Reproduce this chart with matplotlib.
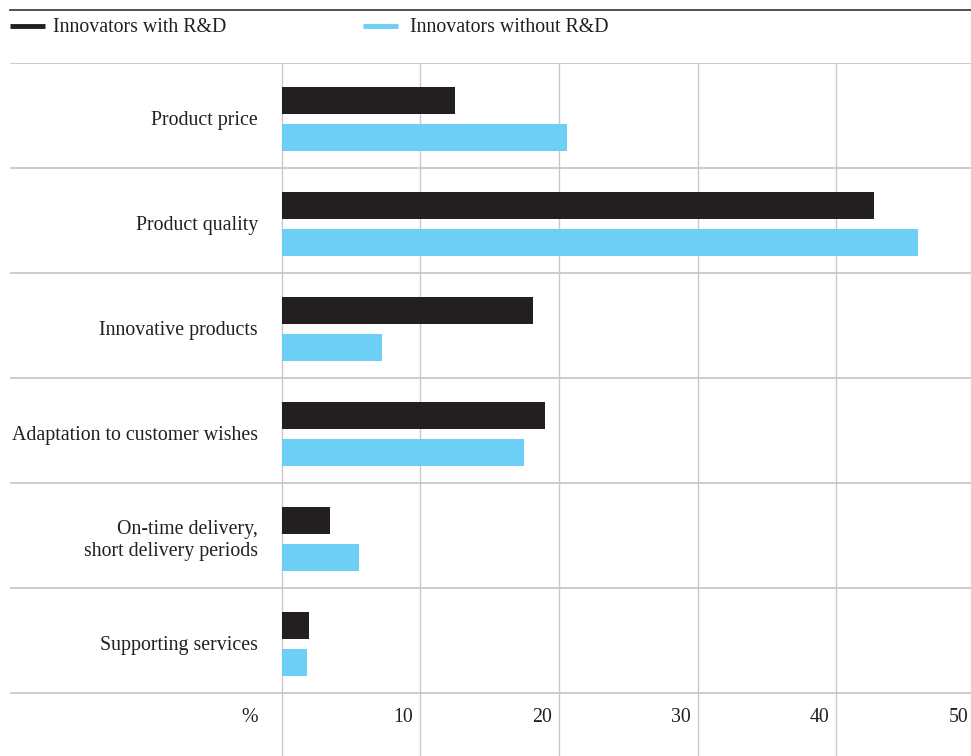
import matplotlib.pyplot as plt
from matplotlib.lines import Line2D
import numpy as np

plt.rcParams['font.family'] = ['Liberation Serif', 'DejaVu Serif']

# data
categories = ['Product price', 'Product quality', 'Innovative products',
              'Adaptation to customer wishes',
              'On-time delivery,\nshort delivery periods', 'Supporting services']
with_rd = [12.5, 42.7, 18.1, 19.0, 3.5, 2.0]
without_rd = [20.6, 45.9, 7.2, 17.5, 5.6, 1.8]
ticks = [10, 20, 30, 40, 50]

black = '#231f20'
blue = '#6dcff6'
grid = '#c8c8c8'
fs = 14.3

fig = plt.figure(figsize=(9.71, 7.56), dpi=100)
ax = fig.add_axes([10 / 971, 0, 961 / 971, 1 - 63 / 756])

n = len(categories)
rows = np.arange(n)
ax.set_xlim(-19.59, 49.7)
ax.set_ylim(n + 0.6, 0)
ax.axis('off')

# grid
for x in [0, 10, 20, 30, 40, 50]:
    ax.axvline(x, color=grid, lw=1, zorder=1)
for y in range(n + 1):
    ax.axhline(y, color=grid, lw=1.3, zorder=1)

# bars
centre = rows + 0.535
h = 0.257
ax.barh(centre - 0.176, with_rd, height=h, left=0, color=black, zorder=3)
ax.barh(centre + 0.176, without_rd, height=h, left=0, color=blue, zorder=3)

# labels
for c, lab in zip(centre, categories):
    ax.text(-1.7, c + 0.015, lab, ha='right', va='center', fontsize=fs,
            color='#231f20', linespacing=1.2)

ax.text(-1.7, n + 0.23, '%', ha='right', va='center', fontsize=fs, color='#231f20')
for t in ticks:
    ax.text(t - 0.5, n + 0.23, str(t), ha='right', va='center', fontsize=fs,
            color='#231f20')

# top rule + legend
fig.add_artist(Line2D([10 / 971, 1], [1 - 10 / 756] * 2, color='#333333', lw=1.2))
ly = 1 - 26 / 756
ty = 1 - 27 / 756
fig.add_artist(Line2D([10 / 971, 45 / 971], [ly, ly], color=black, lw=3.5,
                      solid_capstyle='butt'))
fig.text(53 / 971, ty, 'Innovators with R&D', ha='left', va='center',
         fontsize=fs, color='#231f20')
fig.add_artist(Line2D([363 / 971, 398 / 971], [ly, ly], color=blue, lw=3.5,
                      solid_capstyle='butt'))
fig.text(410 / 971, ty, 'Innovators without R&D', ha='left', va='center',
         fontsize=fs, color='#231f20')

fig.savefig('out.png', dpi=100)
